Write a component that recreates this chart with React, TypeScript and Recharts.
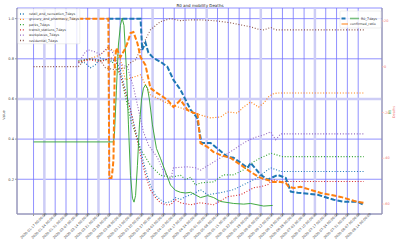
import React from "react";
import { LineChart, Line, XAxis, YAxis, CartesianGrid, ReferenceLine } from "recharts";

// weekly x ticks (days since 2020-01-17)
const weekLabels = [
  "2020-01-17", "2020-01-24", "2020-01-31", "2020-02-07", "2020-02-14", "2020-02-21",
  "2020-02-28", "2020-03-06", "2020-03-13", "2020-03-20", "2020-03-27", "2020-04-03",
  "2020-04-10", "2020-04-17", "2020-04-24", "2020-05-01", "2020-05-08", "2020-05-15",
  "2020-05-22", "2020-05-29", "2020-06-05", "2020-06-12", "2020-06-19", "2020-06-26",
  "2020-07-03", "2020-07-10", "2020-07-17", "2020-07-24", "2020-07-31", "2020-08-07",
  "2020-08-14",
];
const weekDays = weekLabels.map((_, i) => i * 7);
const twinGridDays = [7, 42, 77, 112, 147, 182];

const leftTicks = [0.2, 0.4, 0.6, 0.8, 1.0];
const r0Ticks = [-10, -5, 0, 5, 10, 15];
const ratioTicks = [-60, -40, -20, 0, 20];

// mobility, 7 day means (left axis)
const retailDays = [29, 33.5, 36.7, 40, 43.2, 46.5, 49.7, 53, 56.2, 59.4, 62.7, 65.9, 69.2, 72.4, 75.6, 78.9, 82.1, 85.4, 88.6, 91.8, 95.1, 98.3, 101.6, 104.8, 108, 112.6, 121, 129.4, 138.5, 145, 148.9, 151.5, 153.4, 159.9, 213.6];
const retailVals = [0.78, 0.78, 0.755, 0.77, 0.804, 0.795, 0.785, 0.795, 0.745, 0.645, 0.546, 0.446, 0.347, 0.247, 0.17, 0.12, 0.098, 0.083, 0.088, 0.108, 0.1, 0.113, 0.123, 0.133, 0.148, 0.123, 0.133, 0.148, 0.183, 0.208, 0.232, 0.247, 0.257, 0.239, 0.239];

const groceryDays = [29, 33.5, 40, 43.2, 46.5, 49.7, 53, 56.2, 59.4, 69.2, 75.6, 82.1, 88.6, 95.1, 101.6, 108, 114.5, 121, 125.5, 132, 135.9, 140.4, 145.6, 148.9, 152, 154.7, 157.9, 213.6];
const groceryVals = [0.78, 0.795, 0.81, 0.82, 0.844, 0.85, 0.834, 0.795, 0.695, 0.72, 0.62, 0.596, 0.57, 0.556, 0.536, 0.52, 0.506, 0.51, 0.535, 0.53, 0.56, 0.585, 0.56, 0.58, 0.61, 0.625, 0.63, 0.63];

const parksDays = [29, 36.7, 43.2, 49.7, 56.2, 62.7, 69.2, 75.6, 82.1, 88.6, 95.1, 98.3, 101.6, 104.8, 108, 116.5, 122.9, 129.4, 135.9, 142.4, 146.9, 151.5, 153.4, 157.9, 161, 213.6];
const parksVals = [0.79, 0.8, 0.79, 0.8, 0.72, 0.5, 0.35, 0.27, 0.22, 0.21, 0.22, 0.198, 0.21, 0.17, 0.182, 0.187, 0.222, 0.222, 0.247, 0.287, 0.307, 0.322, 0.33, 0.32, 0.313, 0.313];

const transitDays = [29, 36.7, 43.2, 49.7, 53, 56.2, 62.7, 69.2, 72.4, 75.6, 78.9, 82.1, 85.4, 88.6, 91.8, 95.1, 101.6, 108, 116.5, 125.5, 134, 142.4, 146.9, 151.5, 154.7, 159.9, 213.6];
const transitVals = [0.785, 0.795, 0.785, 0.805, 0.795, 0.72, 0.546, 0.32, 0.22, 0.148, 0.108, 0.083, 0.073, 0.073, 0.098, 0.083, 0.073, 0.083, 0.073, 0.113, 0.123, 0.158, 0.163, 0.173, 0.198, 0.189, 0.189];

const workDays = [29, 33.5, 35.4, 40, 43.2, 48.4, 51, 54, 60.7, 64.6, 71.1, 74.4, 80.2, 84.1, 88.6, 90.5, 99.6, 104.8, 108, 121, 129.4, 135.9, 142.4, 148.9, 153.4, 156.6, 159.9, 213.6];
const workVals = [0.78, 0.834, 0.844, 0.834, 0.82, 0.86, 0.834, 0.78, 0.76, 0.66, 0.436, 0.37, 0.307, 0.237, 0.198, 0.257, 0.262, 0.257, 0.246, 0.307, 0.347, 0.381, 0.406, 0.421, 0.436, 0.397, 0.426, 0.426];

const residentialDays = [0, 29, 33, 36.7, 43, 46.5, 53, 59.4, 62.7, 66, 69, 75.6, 82, 88.6, 95, 101.6, 108, 118, 127.6, 134, 140.4, 145.6, 149, 153.4, 156.6, 213.6];
const residentialVals = [0.761, 0.761, 0.795, 0.798, 0.795, 0.755, 0.745, 0.755, 0.78, 0.795, 0.844, 0.944, 0.985, 1.0, 0.99, 0.994, 0.994, 0.989, 0.979, 0.969, 0.959, 0.947, 0.944, 0.956, 0.944, 0.944];

// deaths, scaled (left axis)
const deathsDays = [48.4, 69.2, 70.3, 72.4, 74.3, 77.6, 82.1, 86.6, 90.5, 95.1, 101.6, 105.8, 108.6, 114.5, 125.5, 129.4, 134, 138.5, 140.4, 146.9, 151.5, 157.9, 163.1, 166.4, 170.9, 183.8, 194.2, 200.7, 209.7, 213.6];
const deathsVals = [1.0, 1.0, 0.844, 0.88, 0.83, 0.804, 0.785, 0.76, 0.695, 0.645, 0.546, 0.506, 0.381, 0.381, 0.312, 0.307, 0.282, 0.257, 0.282, 0.222, 0.198, 0.222, 0.207, 0.138, 0.133, 0.123, 0.098, 0.088, 0.088, 0.073];

// R0 (green right axis)
const r0Days = [0, 51.7, 52.3, 53.6, 54.9, 56.2, 57.3, 58.5, 60.1, 61.4, 62.7, 64, 65, 66, 67.2, 68.5, 69.8, 71.1, 72.4, 73.7, 75, 76.9, 79.5, 82.1, 85.4, 88.6, 91.8, 95.1, 98.3, 101.6, 104.8, 108, 112.6, 116.5, 121, 129.4, 135.9, 140.4, 148.9, 154.7];
const r0Vals = [-2.4, -2.4, -1.4, 5.5, 12.4, 15.4, 16.5, 15.4, 8.6, 0.2, -7.5, -11, -11.6, -10.6, -6, 0.2, 4, 5.8, 6.3, 5.8, 4, 0.2, -3.4, -4.9, -7, -9, -9.8, -10.1, -10.2, -10.1, -10.5, -10.9, -10.6, -10.9, -11.5, -11.8, -11.9, -11.8, -12.2, -12.1];

// confirmed ratio (red right axis)
const ratioDays = [15.4, 48.4, 49, 50.4, 51, 51.7, 52.6, 53.6, 56.2, 58.8, 60.7, 62.7, 64.6, 67.2, 69.2, 72.4, 75.6, 78.9, 82.1, 86.6, 90.5, 95.1, 99.6, 103.5, 106, 108, 112.6, 116.5, 121, 127.5, 134, 140.4, 146.9, 151.5, 154.7, 159.9, 163.1, 165.1, 168.3, 172.8, 179.3, 185.8, 192.3, 198.7, 205.2, 209.7, 213.6];
const ratioVals = [21, 21, -48.6, -48.6, -46, -40.7, 2.9, 8.2, 4.2, 7.3, 10.3, 14.7, 15.2, 10.3, 4.2, 0.7, -9.3, -11, -12.4, -14.5, -17.6, -14.5, -18.9, -20.2, -20.2, -33.4, -35.1, -37.3, -38.6, -39.9, -42.9, -46, -48.6, -49.5, -50.4, -50.4, -50.8, -52.5, -53, -52.5, -53.8, -55.2, -56, -56.9, -58.2, -59.1, -59.5];

const rows = (days: number[], vals: number[]) => days.map((d, i) => ({ d, v: vals[i] }));

const mobility = [
  { name: "retail_and_recreation_7days", color: "#1f77b4", days: retailDays, vals: retailVals },
  { name: "grocery_and_pharmacy_7days", color: "#ff7f0e", days: groceryDays, vals: groceryVals },
  { name: "parks_7days", color: "#2ca02c", days: parksDays, vals: parksVals },
  { name: "transit_stations_7days", color: "#d62728", days: transitDays, vals: transitVals },
  { name: "workplaces_7days", color: "#9467bd", days: workDays, vals: workVals },
  { name: "residential_7days", color: "#8c564b", days: residentialDays, vals: residentialVals },
];

const FONT = "DejaVu Sans, sans-serif";

const DateTick = ({ x, y, payload }: any) => {
  const label = weekLabels[Math.round(payload.value / 7)] + " 00:00:00";
  return (
    <g transform={`translate(${x},${y + 10})`}>
      <text transform="rotate(-45)" textAnchor="middle" dominantBaseline="central" fontSize={3.3} fill="#444" fontFamily={FONT}>
        {label}
      </text>
    </g>
  );
};

export default function App() {
  return (
    <div style={{ position: "absolute", left: 0, top: 0, width: 400, height: 250, background: "#fff", fontFamily: FONT }}>
      <LineChart width={400} height={250} margin={{ top: 8, right: 0, bottom: 0, left: 0 }}>
        <CartesianGrid xAxisId="x" yAxisId="left" stroke="#7575ff" strokeWidth={0.8} />
        {twinGridDays.map((d) => (
          <ReferenceLine key={d} xAxisId="x" yAxisId="left" x={d} stroke="#cdcdf6" strokeWidth={2.5} />
        ))}
        <ReferenceLine xAxisId="x" yAxisId="left" y={0.6} stroke="#cdcdf6" strokeWidth={2.5} />
        <XAxis
          xAxisId="x"
          type="number"
          dataKey="d"
          domain={[-10.7, 225.4]}
          allowDataOverflow
          ticks={weekDays}
          interval={0}
          height={36}
          tick={<DateTick />}
          tickSize={2}
          tickMargin={0}
          stroke="#9a9a9a"
        />
        <YAxis
          yAxisId="left"
          orientation="left"
          width={17}
          domain={[0.027, 1.053]}
          allowDataOverflow
          ticks={leftTicks}
          tickFormatter={(v: number) => v.toFixed(1)}
          tick={{ fontSize: 3.6, fill: "#444", fontFamily: FONT }}
          tickSize={2}
          tickMargin={1}
          stroke="#9a9a9a"
        />
        <YAxis
          yAxisId="r0"
          orientation="right"
          width={0}
          domain={[-13.41, 18.05]}
          allowDataOverflow
          ticks={r0Ticks}
          tick={{ fontSize: 3.4, fill: "#5cb85c", fontFamily: FONT, textAnchor: "start" }}
          tickSize={1.5}
          tickMargin={0.5}
          axisLine={false}
          tickLine={{ stroke: "#b0d8b0" }}
        />
        <YAxis
          yAxisId="ratio"
          orientation="right"
          width={18}
          domain={[-64.37, 25.68]}
          allowDataOverflow
          ticks={ratioTicks}
          tick={{ fontSize: 3.4, fill: "#f07070", fontFamily: FONT, textAnchor: "start" }}
          tickSize={1.5}
          tickMargin={0.5}
          stroke="#9a9a9a"
          tickLine={{ stroke: "#f4b0b0" }}
        />
        {mobility.map((m) => (
          <Line
            key={m.name}
            xAxisId="x"
            yAxisId="left"
            data={rows(m.days, m.vals)}
            dataKey="v"
            type="linear"
            stroke={m.color}
            strokeWidth={1.1}
            strokeDasharray="1 1.8"
            dot={false}
            isAnimationActive={false}
          />
        ))}
        <Line xAxisId="x" yAxisId="left" data={rows(deathsDays, deathsVals)} dataKey="v" type="linear" stroke="#1f77b4" strokeWidth={2} strokeDasharray="5 2" dot={false} isAnimationActive={false} />
        <Line xAxisId="x" yAxisId="r0" data={rows(r0Days, r0Vals)} dataKey="v" type="linear" stroke="#2ca02c" strokeWidth={0.9} dot={false} isAnimationActive={false} />
        <Line xAxisId="x" yAxisId="ratio" data={rows(ratioDays, ratioVals)} dataKey="v" type="linear" stroke="#ff7f0e" strokeWidth={2} strokeDasharray="5 2" dot={false} isAnimationActive={false} />
      </LineChart>

      <svg width={400} height={250} style={{ position: "absolute", left: 0, top: 0, pointerEvents: "none" }} fontFamily={FONT}>
        <text x={200} y={6.5} textAnchor="middle" fontSize={4} fill="#222">R0 and mobility Deaths</text>
        <text transform="translate(4.5,115) rotate(-90)" textAnchor="middle" fontSize={3.4} fill="#333">Value</text>
        <text transform="translate(391,112) rotate(-90)" textAnchor="middle" fontSize={3.4} fill="#5cb85c">R0</text>
        <text transform="translate(395,112) rotate(-90)" textAnchor="middle" fontSize={3.4} fill="#f07070">Deaths</text>

        <rect x={17.8} y={8.8} width={62} height={35} rx={1} fill="#fff" fillOpacity={0.8} stroke="#ddd" strokeWidth={0.5} />
        {mobility.map((m, i) => (
          <g key={m.name}>
            <line x1={20} x2={25} y1={14 + i * 5.3} y2={14 + i * 5.3} stroke={m.color} strokeWidth={1.3} strokeDasharray="1 1.8" />
            <text x={29} y={14 + i * 5.3} dominantBaseline="central" fontSize={3.3} fill="#333">{m.name}</text>
          </g>
        ))}

        <rect x={340} y={11} width={41} height={17} rx={1} fill="#fff" fillOpacity={0.8} stroke="#ddd" strokeWidth={0.5} />
        <rect x={341.5} y={17.5} width={4} height={2} fill="#1f77b4" />
        <line x1={350} x2={359} y1={18.5} y2={18.5} stroke="#2ca02c" strokeWidth={1.6} strokeOpacity={0.6} />
        <text x={361} y={18.5} dominantBaseline="central" fontSize={3.3} fill="#333">R0_7days</text>
        <line x1={341.5} x2={348} y1={24} y2={24} stroke="#ff7f0e" strokeWidth={1} />
        <text x={350} y={24} dominantBaseline="central" fontSize={3.3} fill="#333">confirmed_ratio</text>
      </svg>
    </div>
  );
}
